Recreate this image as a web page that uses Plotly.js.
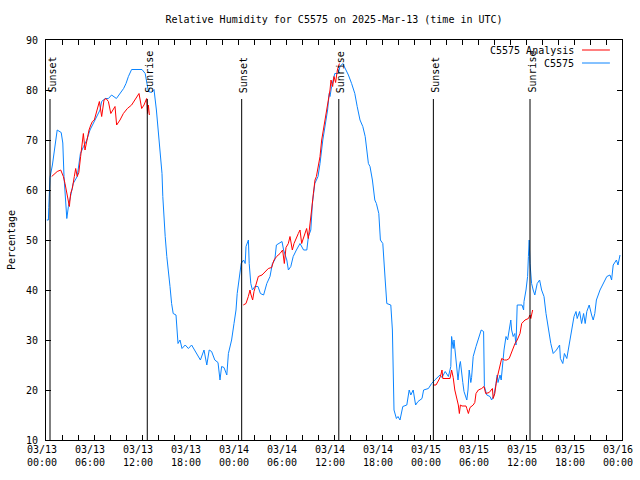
<!DOCTYPE html>
<html>
<head>
<meta charset="utf-8">
<script src="https://cdn.plot.ly/plotly-3.0.1.min.js"></script>
<style>html,body{margin:0;padding:0;background:#fff;}#chart{width:640px;height:480px;}</style>
</head>
<body>
<div id="chart"></div>
<script>
// Hours since 2025-03-13 00:00 UTC
const obsHours = [
0.1, 0.3, 0.35, 0.5, 0.8, 1.1, 1.4, 1.9, 2.1, 2.25,
2.5, 2.6, 2.8, 3.1, 3.4, 3.9, 4.1, 4.3, 4.7, 5.1,
5.5, 5.9, 6.3, 6.75, 6.95, 7.4, 7.8, 8.2, 8.8, 9.25,
9.7, 10.0, 10.3, 10.7, 12.0, 12.4, 12.6, 12.8, 13.2, 13.5,
13.8, 14.0, 14.3, 14.5, 14.6, 14.75, 14.9, 15.1, 15.3, 15.5,
15.7, 15.9, 16.25, 16.4, 16.5, 16.75, 17.0, 17.4, 17.8, 18.2,
18.6, 19.0, 19.3, 19.75, 20.1, 20.4, 20.7, 21.1, 21.5, 21.75,
21.95, 22.25, 22.6, 22.8, 23.2, 23.5, 23.75, 23.9, 24.2, 24.4,
24.7, 24.9, 25.0, 25.3, 25.4, 25.6, 25.8, 26.1, 26.5, 26.8,
27.2, 27.6, 28.0, 28.3, 28.6, 28.8, 29.5, 29.7, 30.1, 30.3,
30.6, 30.9, 31.3, 31.75, 32.2, 32.6, 32.8, 33.1, 33.3, 33.6,
34.0, 34.25, 34.6, 34.9, 35.2, 35.4, 35.5, 35.7, 36.1, 36.5,
36.75, 37.1, 37.4, 37.8, 38.2, 38.6, 38.9, 39.25, 39.6, 39.9,
40.1, 40.3, 40.5, 40.8, 41.1, 41.3, 41.6, 41.8, 42.1, 42.3,
42.4, 42.6, 43.1, 43.3, 43.4, 43.5, 43.8, 44.0, 44.25, 44.6,
45.1, 45.4, 45.6, 45.9, 46.2, 46.5, 47.0, 47.2, 47.8, 48.2,
48.6, 49.0, 49.25, 49.5, 49.9, 50.3, 50.6, 50.7, 50.9, 51.0,
51.25, 51.4, 51.5, 51.7, 51.8, 52.1, 52.25, 52.6, 52.75, 52.9,
53.1, 53.2, 53.4, 53.75, 53.9, 54.2, 54.4, 54.7, 54.8, 55.1,
55.5, 55.7, 56.0, 56.25, 56.4, 56.5, 56.75, 56.9, 57.1, 57.25,
57.5, 57.7, 57.9, 58.1, 58.2, 58.4, 58.6, 58.75, 58.9, 59.5,
59.7, 59.75, 60.0, 60.2, 60.3, 60.4, 60.5, 60.7, 60.9, 61.1,
61.4, 61.7, 61.95, 62.25, 62.5, 62.8, 63.1, 63.4, 63.8, 64.2,
64.3, 64.6, 64.8, 65.1, 65.3, 65.5, 65.7, 66.0, 66.25, 66.4,
66.7, 66.95, 67.2, 67.4, 67.6, 67.9, 68.2, 68.4, 68.6, 68.8,
69.25, 69.7, 70.1, 70.5, 70.7, 70.9, 71.3, 71.5, 71.75
];
const obsRH = [
54, 54, 56.5, 62.5, 65, 69, 72, 71.5, 69.4, 62.7,
57.3, 54.3, 56.7, 59.3, 61.3, 62.7, 65.3, 67.3, 68.7, 70,
72, 73.3, 74.3, 76, 77.7, 78.3, 78.3, 79, 78.3, 79.3,
80.3, 81.3, 82.7, 84.1, 84.1, 83.3, 81.3, 79.7, 79.5, 80.1,
76, 72, 67.3, 63.3, 58.7, 54, 50.7, 46.7, 44, 40.7,
37.3, 35.3, 35, 32, 29.3, 30, 28.3, 29, 28.3, 29,
28, 27, 26, 28, 25, 28, 27.7, 26, 25.5, 22,
24.7, 24.5, 23, 27.3, 30, 33.3, 36, 39.3, 42.7, 45.3,
46, 45.3, 48.7, 50, 45.3, 41.3, 40, 40.7, 40.7, 39.3,
39, 41.3, 42.7, 45.3, 46, 49, 49.7, 48, 46, 44,
44.7, 46.7, 48, 49.3, 48, 48, 50.7, 52, 57.3, 61.3,
62.7, 65.3, 70, 73.3, 76, 79.3, 78.7, 80.7, 83.3, 83.3,
84.7, 85.3, 84.3, 83, 81.3, 79.3, 76.7, 74, 72.7, 70.7,
68, 65.3, 64.7, 62, 58, 57.3, 55.3, 50, 49.3, 45.3,
42, 37.3, 37, 32, 22, 16, 14.3, 14.7, 14, 16.7,
17, 20, 19, 20, 17, 17.7, 18.3, 20, 20.3, 21.3,
22, 22.7, 23, 22.5, 23.7, 22.7, 24.7, 30.7, 28.3, 30,
26, 24, 22, 25, 25.7, 21.5, 19.7, 18, 20, 24,
21.5, 22.5, 26.7, 28.7, 29.5, 31.3, 32, 31.7, 20.7, 19,
18.7, 18, 19, 21.3, 23, 21.5, 23, 22, 26.3, 28,
30.7, 30, 32, 34, 32, 30.7, 31.3, 29, 37, 37,
36, 37.7, 40, 42.7, 46.7, 50, 45.3, 41.3, 40, 39,
41.3, 42, 40, 38.7, 35.3, 32, 29.3, 27.3, 28, 29,
26.3, 25.3, 27.3, 26.3, 28, 30, 32, 34.7, 35.7, 34.3,
35.7, 33.3, 35.3, 33.3, 35.7, 37, 35, 34, 35.3, 38,
40, 41.3, 42.7, 43, 42, 45, 46, 45, 47
];

const anaHours1 = [0.71, 1.4, 1.84, 2.17, 2.375, 2.58, 2.79, 2.92, 3.08, 3.29, 3.54, 3.71, 3.9, 4.1, 4.33, 4.54, 4.67, 4.875, 5.1, 5.375, 5.6, 5.8, 6.04, 6.25, 6.46, 6.67, 6.96, 7.25, 7.5, 7.8, 8.1, 8.35, 8.625, 8.83, 9.25, 9.67, 10.17, 10.7, 11.25, 11.625, 11.96, 12.25, 12.58, 12.7, 12.8, 12.92];
const anaRH1 = [62.7, 63.7, 64, 62.7, 61.3, 59.3, 58, 56.7, 59.3, 60.3, 62.7, 64.3, 62.7, 63.5, 66.7, 70, 71.3, 68, 70, 72, 73, 73.7, 74, 75.3, 76.7, 77.7, 74.7, 78, 78.3, 77.7, 75.3, 76, 76.7, 73, 74, 75.3, 76.3, 77, 78.3, 79.3, 76.3, 77, 78.3, 75.3, 77, 75];
const anaHours2 = [24.66, 25.0, 25.29, 25.5, 25.6, 25.83, 26.0, 26.33, 26.54, 27.0, 27.375, 27.79, 28.2, 28.5, 28.83, 29.25, 29.58, 29.79, 30.0, 30.29, 30.5, 30.79, 31.0, 31.33, 31.54, 31.75, 31.96, 32.1, 32.4, 32.58, 32.79, 33.0, 33.2, 33.42, 33.625, 33.8, 34.04, 34.25, 34.46, 34.67, 34.9, 35.08, 35.29, 35.5, 35.625, 35.83, 36.0, 36.2, 36.42, 36.67];
const anaRH2 = [37, 37.3, 38.7, 40, 39.2, 38, 39.7, 41.3, 42.7, 43, 43.7, 44.3, 44.5, 46, 46.7, 47.3, 48, 45.3, 48.5, 49.3, 50.7, 48, 49.3, 50.7, 51.3, 52, 49.3, 50, 51.3, 52.3, 50.3, 52.7, 56, 59.3, 62, 62.7, 64.7, 66.7, 70, 72, 73.5, 75.3, 77.3, 80, 82, 80.7, 82.7, 81.5, 84, 85.3];
const anaHours3 = [48.4, 48.75, 49.1, 49.3, 49.5, 49.6, 50.0, 50.5, 50.7, 50.9, 51.1, 51.33, 51.54, 51.67, 51.8, 52.0, 52.5, 52.6, 52.8, 53.0, 53.4, 53.6, 53.75, 54.04, 54.46, 54.75, 54.96, 55.4, 55.6, 55.8, 55.9, 56.1, 56.33, 56.54, 56.75, 56.96, 57.3, 57.6, 57.9, 58.2, 58.625, 58.9, 59.25, 59.46, 59.875, 60.3, 60.5, 60.6, 60.83];
const anaRH3 = [21, 21, 22, 22.7, 24, 22.3, 22.3, 22.3, 24, 22.5, 20, 18.3, 17, 15.3, 17, 16.8, 16.8, 16.3, 15.3, 16.5, 17, 17.5, 19.3, 20, 20.3, 20.7, 19.3, 19.5, 20, 20.3, 18.3, 19.3, 22, 23.3, 24.7, 26.3, 26, 26, 26.3, 27.7, 29.3, 30, 31.3, 33.3, 34, 34.3, 35, 34.3, 36];

const sunEventHours = [0.5, 12.66, 24.46, 36.6, 48.42, 60.5];
const sunEventLabels = ['Sunset', 'Sunrise', 'Sunset', 'Sunrise', 'Sunset', 'Sunrise'];

const xTickHours = [0, 6, 12, 18, 24, 30, 36, 42, 48, 54, 60, 66, 72];
const xTickLabels = ['03/13<br>00:00', '03/13<br>06:00', '03/13<br>12:00', '03/13<br>18:00',
  '03/14<br>00:00', '03/14<br>06:00', '03/14<br>12:00', '03/14<br>18:00',
  '03/15<br>00:00', '03/15<br>06:00', '03/15<br>12:00', '03/15<br>18:00', '03/16<br>00:00'];

const seriesNames = ['C5575 Analysis', 'C5575'];
const seriesColors = ['#ff0000', '#0a84ff'];

const anaX = [].concat(anaHours1, [null], anaHours2, [null], anaHours3);
const anaY = [].concat(anaRH1, [null], anaRH2, [null], anaRH3);

const FONT = 'DejaVu Sans Mono, monospace';

const traces = [
  {x: obsHours, y: obsRH, type: 'scatter', mode: 'lines', name: seriesNames[1],
   line: {color: seriesColors[1], width: 1}, showlegend: false},
  {x: anaX, y: anaY, type: 'scatter', mode: 'lines', name: seriesNames[0], connectgaps: false,
   line: {color: seriesColors[0], width: 1}, showlegend: false}
];

const shapes = [];
const annotations = [];
sunEventHours.forEach((h, i) => {
  shapes.push({type: 'line', xref: 'x', yref: 'y', x0: h, x1: h, y0: 10, y1: 78.2,
    line: {color: '#000', width: 1}, layer: 'above'});
  annotations.push({x: h, y: 79, xref: 'x', yref: 'y', text: sunEventLabels[i], textangle: -90,
    showarrow: false, xanchor: 'center', yanchor: 'bottom', xshift: 1.5,
    font: {family: FONT, size: 10, color: '#000'}});
});

// legend (gnuplot style: text right-aligned, sample line on the right)
const legendRowY = [0.975, 0.9425];
[0, 1].forEach(i => {
  annotations.push({xref: 'paper', yref: 'paper', x: 0.92, y: legendRowY[i], text: seriesNames[i],
    showarrow: false, xanchor: 'right', yanchor: 'middle', font: {family: FONT, size: 10, color: '#000'}});
  shapes.push({type: 'line', xref: 'paper', yref: 'paper', x0: 0.9306, x1: 0.979,
    y0: legendRowY[i], y1: legendRowY[i], line: {color: seriesColors[i], width: 1}});
});

const layout = {
  width: 640, height: 480,
  margin: {l: 46, r: 18, t: 40, b: 40, pad: 0},
  paper_bgcolor: '#fff', plot_bgcolor: '#fff',
  font: {family: FONT, size: 10, color: '#000'},
  showlegend: false,
  title: {text: 'Relative Humidity for C5575 on 2025-Mar-13 (time in UTC)',
    font: {family: FONT, size: 10, color: '#000'},
    x: 0.5, xref: 'paper', xanchor: 'center', y: 1 - 19/480, yref: 'container', yanchor: 'middle'},
  xaxis: {
    range: [0, 72], tickmode: 'array', tickvals: xTickHours, ticktext: xTickLabels,
    ticks: 'inside', ticklen: 5, tickcolor: '#000', showgrid: false, zeroline: false,
    showline: true, linecolor: '#000', linewidth: 1, mirror: 'allticks',
    ticklabelshift: -4,
    minor: {dtick: 2, tick0: 0, ticks: 'inside', ticklen: 5, tickcolor: '#000', showgrid: false},
    tickfont: {family: FONT, size: 10, color: '#000'}, automargin: false, fixedrange: true
  },
  yaxis: {
    range: [10, 90], dtick: 10, tick0: 10,
    ticks: 'inside', ticklen: 5, tickcolor: '#000', showgrid: false, zeroline: false,
    showline: true, linecolor: '#000', linewidth: 1, mirror: 'allticks',
    ticklabelstandoff: 5,
    tickfont: {family: FONT, size: 10, color: '#000'}, automargin: false, fixedrange: true,
    title: {text: 'Percentage', font: {family: FONT, size: 10, color: '#000'}, standoff: 8}
  },
  shapes: shapes,
  annotations: annotations
};

Plotly.newPlot('chart', traces, layout, {staticPlot: true, displayModeBar: false});
</script>
</body>
</html>
